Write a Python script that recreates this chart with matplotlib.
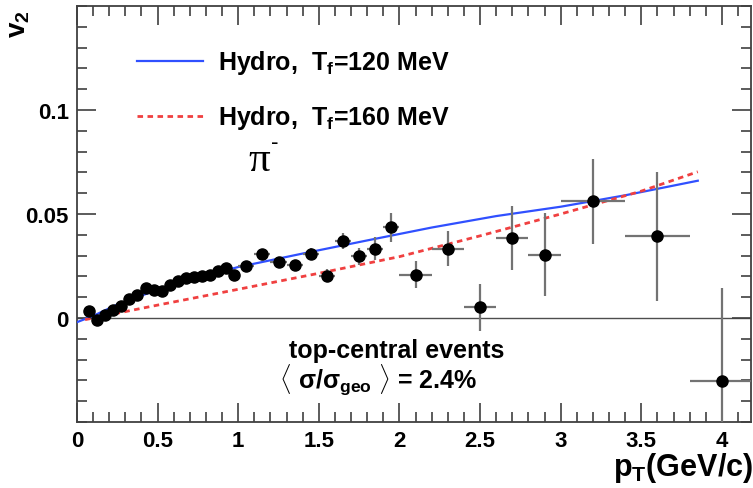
import numpy as np
import matplotlib
matplotlib.use('Agg')
import matplotlib.pyplot as plt
from matplotlib.ticker import MultipleLocator

plt.rcParams['font.family'] = ['Liberation Sans', 'DejaVu Sans']
plt.rcParams['font.weight'] = 'bold'
plt.rcParams['axes.labelweight'] = 'bold'
plt.rcParams['mathtext.fontset'] = 'custom'
plt.rcParams['mathtext.rm'] = 'Liberation Sans:bold'
plt.rcParams['mathtext.it'] = 'Liberation Sans:bold'
plt.rcParams['mathtext.bf'] = 'Liberation Sans:bold'

## measured v2 of pi- vs pT
pt = [0.075, 0.125, 0.175, 0.225, 0.275, 0.325, 0.375, 0.425, 0.475, 0.525,
      0.575, 0.625, 0.675, 0.725, 0.775, 0.825, 0.875, 0.925, 0.975,
      1.05, 1.15, 1.25, 1.35, 1.45, 1.55, 1.65, 1.75, 1.85, 1.95,
      2.1, 2.3, 2.5, 2.7, 2.9, 3.2, 3.6, 4.0]
v2 = [0.0032, -0.0008, 0.0016, 0.004, 0.0056, 0.009, 0.011, 0.0144, 0.0136, 0.013,
      0.016, 0.0176, 0.019, 0.0197, 0.020, 0.0208, 0.0224, 0.024, 0.0208,
      0.0248, 0.0308, 0.0268, 0.0253, 0.031, 0.0204, 0.037, 0.0296, 0.0333, 0.0437,
      0.0208, 0.0333, 0.0051, 0.0385, 0.0304, 0.0561, 0.0393, -0.0304]
v2_err = [0.001, 0.001, 0.001, 0.001, 0.001, 0.001, 0.001, 0.001, 0.001, 0.001,
          0.001, 0.001, 0.001, 0.001, 0.001, 0.0012, 0.0012, 0.0013, 0.0014,
          0.0018, 0.002, 0.0022, 0.0025, 0.0028, 0.003, 0.004, 0.004, 0.0055, 0.007,
          0.0065, 0.0085, 0.0114, 0.0155, 0.02, 0.0203, 0.031, 0.045]
pt_err = [0.025] * 19 + [0.05] * 10 + [0.1] * 5 + [0.2] * 3

## hydro curves
hydro120_pt = [0.0, 0.1, 0.25, 0.5, 0.75, 1.0, 1.4, 1.8, 2.2, 2.6, 3.0, 3.4, 3.85]
hydro120_v2 = [-0.002, 0.001, 0.0065, 0.0136, 0.0195, 0.0245, 0.031, 0.0373,
               0.0435, 0.049, 0.0535, 0.059, 0.066]
hydro160_pt = [0.05, 0.5, 1.0, 1.5, 2.0, 2.5, 3.0, 3.5, 3.85]
hydro160_v2 = [-0.0008, 0.0062, 0.0138, 0.0215, 0.0295, 0.0395, 0.050, 0.061, 0.0703]

xticks = [0, 0.5, 1, 1.5, 2, 2.5, 3, 3.5, 4]
xticklabels = ['0', '0.5', '1', '1.5', '2', '2.5', '3', '3.5', '4']
yticks = [0, 0.05, 0.1]
yticklabels = ['0', '0.05', '0.1']

fig = plt.figure(figsize=(7.53, 4.89), dpi=100)
ax = fig.add_axes([77/753, 1 - 423/489, (751 - 77)/753, (423 - 7)/489])

ax.axhline(0, color='0.3', lw=1.0, zorder=1)
ax.plot(hydro120_pt, hydro120_v2, '-', color='#3050ff', lw=1.6, zorder=3,
        label=r'Hydro,  T$_{\mathregular{f}}$=120 MeV')
ax.plot(hydro160_pt, hydro160_v2, '--', color='#f04040', lw=2.0, dashes=(2, 1.6), zorder=3,
        label=r'Hydro,  T$_{\mathregular{f}}$=160 MeV')
ax.errorbar(pt, v2, yerr=v2_err, xerr=pt_err, fmt='o', color='black', ms=8,
            ecolor='0.45', elinewidth=1.6, capsize=0, zorder=4)

ax.set_xlim(0, 4.18)
ax.set_ylim(-0.05, 0.15)
ax.set_xticks(xticks)
ax.set_xticklabels(xticklabels)
ax.xaxis.set_minor_locator(MultipleLocator(0.1))
ax.set_yticks(yticks)
ax.set_yticklabels(yticklabels)
ax.yaxis.set_minor_locator(MultipleLocator(0.01))
ax.tick_params(which='both', direction='in', top=True, right=True, width=1.2, color='0.25')
ax.tick_params(which='major', length=14, labelsize=16, pad=6)
ax.tick_params(which='minor', length=7)
for s in ax.spines.values():
    s.set_linewidth(1.3)
    s.set_color('0.25')

fig.text(753/753, 1 - 476/489, r'p$_{\mathregular{T}}$(GeV/c)', fontsize=22,
         ha='right', va='baseline')
fig.text(19/753, 1 - 24/489, r'v$_{\mathregular{2}}$', fontsize=20,
         rotation=90, ha='center', va='center')

ax.legend(loc='upper left', bbox_to_anchor=(0.074, 0.922), frameon=False, fontsize=18,
          borderaxespad=0, handlelength=2.64, handletextpad=0.6, labelspacing=1.08)

ax.text(1.13, 0.076, 'π', fontsize=31, ha='center', va='center',
        fontfamily='Liberation Serif', fontweight='normal')
ax.text(1.225, 0.0845, '-', fontsize=15, ha='center', va='center',
        fontfamily='DejaVu Sans', fontweight='normal')
ax.text(1.98, -0.0155, 'top-central events', fontsize=18, ha='center', va='center')
ax.text(1.25, -0.0295, r'$\langle\ \sigma/\sigma_{\mathregular{geo}}\ \rangle$ = 2.4%',
        fontsize=18, ha='left', va='center')

fig.savefig('out.png', dpi=100)
